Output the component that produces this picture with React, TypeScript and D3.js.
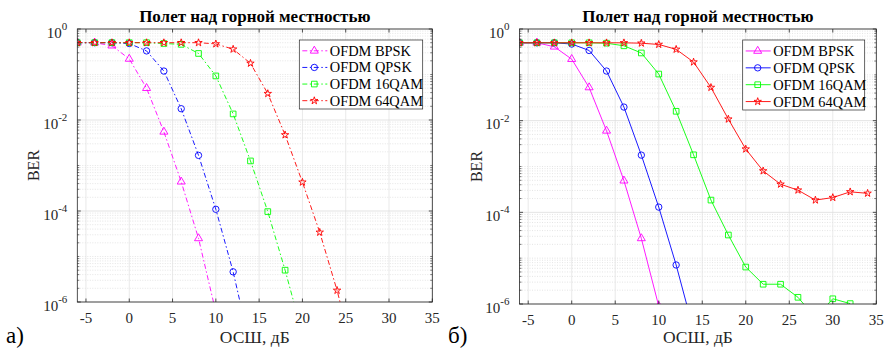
import React from 'react';
import * as d3 from 'd3';

// SNR grid (dB)
const snr = [-6, -4, -2, 0, 2, 4, 6, 8, 10, 12, 14, 16, 18, 20, 22, 24, 26, 28, 30, 32, 34];

// Panel a) values (BER)
const bpskA = [0.5, 0.5, 0.43, 0.22, 0.05, 0.0055, 4.4e-4, 2.5e-5, 6e-7];
const qpskA = [0.5, 0.5, 0.5, 0.48, 0.33, 0.119, 0.0177, 0.00167, 1.09e-4, 4.6e-6, 1e-7];
const qam16A = [0.5, 0.5, 0.5, 0.5, 0.5, 0.48, 0.46, 0.29, 0.093, 0.0136, 0.00126, 9.7e-5, 5e-6, 2e-7];
const qam64A = [0.5, 0.5, 0.5, 0.5, 0.5, 0.5, 0.5, 0.5, 0.47, 0.36, 0.176, 0.038, 0.0047, 4.3e-4, 3.4e-5, 1.8e-6, 6e-8];

// Panel б) values (BER)
const bpskB = [0.5, 0.5, 0.41, 0.22, 0.053, 0.006, 4.9e-4, 2.7e-5, 9e-7];
const qpskB = [0.5, 0.5, 0.5, 0.47, 0.34, 0.121, 0.0198, 0.00177, 1.3e-4, 7.1e-6, 2.7e-7];
const qam16B = [0.5, 0.5, 0.5, 0.5, 0.5, 0.49, 0.43, 0.3, 0.104, 0.016, 0.0018, 1.85e-4, 3.2e-5, 6.4e-6, 2.7e-6, 2.7e-6, 1.4e-6, 5e-7, 1.3e-6, 1.02e-6];
const qam64B = [0.5, 0.5, 0.5, 0.5, 0.5, 0.5, 0.5, 0.49, 0.46, 0.36, 0.19, 0.053, 0.0108, 0.0024, 8e-4, 4.1e-4, 3.05e-4, 1.85e-4, 2.1e-4, 2.8e-4, 2.6e-4];

const seriesNames = ['OFDM BPSK', 'OFDM QPSK', 'OFDM 16QAM', 'OFDM 64QAM'];
const seriesColors = ['#ff00ff', '#0000ff', '#00ff00', '#ff0000'];
const seriesMarkers = ['triangle', 'circle', 'square', 'star'];

const xTicks = [-5, 0, 5, 10, 15, 20, 25, 30, 35];
const yTickExp = [0, -2, -4, -6];
const titleText = 'Полет над горной местностью';
const xLabelText = 'ОСШ, дБ';
const yLabelText = 'BER';

const FONT = '"Liberation Serif", "Times New Roman", serif';
const AXIS = '#262626';

const markerPath = (kind: string) => {
  const m: Record<string, [d3.SymbolType, number]> = {
    triangle: [d3.symbolTriangle, 28],
    circle: [d3.symbolCircle, 32],
    square: [d3.symbolSquare, 32],
    star: [d3.symbolStar, 17],
  };
  const [t, s] = m[kind];
  return d3.symbol().type(t).size(s)() as string;
};

type PanelProps = {
  id: string;
  x0: number; x1: number; y0: number; y1: number;
  data: number[][];
  dash: string | undefined;
  letter: string; letterX: number;
  legend: { x: number; y: number; w: number; h: number };
};

function Panel({ id, x0, x1, y0, y1, data, dash, letter, letterX, legend }: PanelProps) {
  const x = d3.scaleLinear().domain([-6, 35]).range([x0, x1]);
  const y = d3.scaleLog().domain([1e-6, 1]).range([y1, y0]);
  const line = d3.line<[number, number]>().x(d => x(d[0])).y(d => y(d[1]));
  const cx = (x0 + x1) / 2;

  const minor: number[] = [];
  for (let k = -6; k < 0; k++) {
    for (let n = 1; n <= 9; n++) {
      const v = n * Math.pow(10, k);
      if (n === 1 && k % 2 === 0) continue;
      minor.push(v);
    }
  }

  const rowH = legend.h / 4.15;
  return (
    <g>
      <defs>
        <clipPath id={`clip-${id}`}>
          <rect x={x0} y={y0} width={x1 - x0} height={y1 - y0} />
        </clipPath>
      </defs>
      <rect x={x0} y={y0} width={x1 - x0} height={y1 - y0} fill="#fff" />
      {/* minor grid */}
      {minor.map((v, i) => (
        <line key={`mg${i}`} x1={x0} x2={x1} y1={y(v)} y2={y(v)} stroke="#d4d4d4" strokeWidth={0.6} strokeDasharray="1,1.5" />
      ))}
      {/* major grid */}
      {xTicks.map(t => (
        <line key={`gx${t}`} x1={x(t)} x2={x(t)} y1={y0} y2={y1} stroke="#e3e3e3" strokeWidth={0.8} />
      ))}
      {yTickExp.map(e => (
        <line key={`gy${e}`} x1={x0} x2={x1} y1={y(Math.pow(10, e))} y2={y(Math.pow(10, e))} stroke="#dcdcdc" strokeWidth={0.8} />
      ))}
      {/* series */}
      <g clipPath={`url(#clip-${id})`}>
        {data.map((vals, si) => {
          const pts: [number, number][] = vals.map((v, i) => [snr[i], v]);
          return (
            <g key={`s${si}`}>
              <path d={line(pts) as string} fill="none" stroke={seriesColors[si]} strokeWidth={0.9} strokeDasharray={dash} />
              {pts.map((p, i) => (
                <path key={i} d={markerPath(seriesMarkers[si])} transform={`translate(${x(p[0])},${y(p[1])})`} fill="none" stroke={seriesColors[si]} strokeWidth={0.9} />
              ))}
            </g>
          );
        })}
      </g>
      {/* box */}
      <rect x={x0} y={y0} width={x1 - x0} height={y1 - y0} fill="none" stroke={AXIS} strokeWidth={0.8} />
      {/* ticks */}
      {xTicks.map(t => (
        <g key={`tx${t}`}>
          <line x1={x(t)} x2={x(t)} y1={y1} y2={y1 - 3.5} stroke={AXIS} strokeWidth={0.8} />
          <line x1={x(t)} x2={x(t)} y1={y0} y2={y0 + 3.5} stroke={AXIS} strokeWidth={0.8} />
          <text x={x(t)} y={y1 + 20.5} textAnchor="middle" fontFamily={FONT} fontSize={15} fill={AXIS}>{t < 0 ? `-${-t}` : `${t}`}</text>
        </g>
      ))}
      {minor.map((v, i) => (
        <g key={`mt${i}`}>
          <line x1={x0} x2={x0 + 2} y1={y(v)} y2={y(v)} stroke={AXIS} strokeWidth={0.6} />
          <line x1={x1} x2={x1 - 2} y1={y(v)} y2={y(v)} stroke={AXIS} strokeWidth={0.6} />
        </g>
      ))}
      {yTickExp.map(e => (
        <g key={`ty${e}`}>
          <line x1={x0} x2={x0 + 3.5} y1={y(Math.pow(10, e))} y2={y(Math.pow(10, e))} stroke={AXIS} strokeWidth={0.8} />
          <line x1={x1} x2={x1 - 3.5} y1={y(Math.pow(10, e))} y2={y(Math.pow(10, e))} stroke={AXIS} strokeWidth={0.8} />
          <text x={x0 - 10} y={y(Math.pow(10, e)) + 8.5} textAnchor="end" fontFamily={FONT} fontSize={15} fill={AXIS}>
            10<tspan dy={-7.5} fontSize={11}>{e < 0 ? `-${-e}` : `${e}`}</tspan>
          </text>
        </g>
      ))}
      {/* labels */}
      <text x={cx} y={22} textAnchor="middle" fontFamily={FONT} fontSize={17} fontWeight="bold" fill="#000">{titleText}</text>
      <text x={cx} y={342.5} textAnchor="middle" fontFamily={FONT} fontSize={17.5} fill={AXIS}>{xLabelText}</text>
      <text transform={`translate(${x0 - 38},${(y0 + y1) / 2})rotate(-90)`} textAnchor="middle" fontFamily={FONT} fontSize={16} fill={AXIS}>{yLabelText}</text>
      <text x={letterX} y={343} fontFamily={FONT} fontSize={23} fill="#000">{letter}</text>
      {/* legend */}
      <rect x={legend.x} y={legend.y} width={legend.w} height={legend.h} fill="#fff" stroke={AXIS} strokeWidth={0.7} />
      {seriesNames.map((n, i) => {
        const ry = legend.y + rowH * (i + 0.65);
        return (
          <g key={`lg${i}`}>
            <line x1={legend.x + 3} x2={legend.x + 28} y1={ry} y2={ry} stroke={seriesColors[i]} strokeWidth={0.9} strokeDasharray={dash} />
            <path d={markerPath(seriesMarkers[i])} transform={`translate(${legend.x + 15},${ry})`} fill="none" stroke={seriesColors[i]} strokeWidth={0.9} />
            <text x={legend.x + 30.5} y={ry + 5} fontFamily={FONT} fontSize={14.4} fill="#000">{n}</text>
          </g>
        );
      })}
    </g>
  );
}

export default function App() {
  return (
    <svg width={886} height={350} style={{ position: 'absolute', left: 0, top: 0, background: '#fff' }}>
      <rect width={886} height={350} fill="#fff" />
      <Panel id="a" x0={77.3} x1={432.3} y0={29} y1={302} data={[bpskA, qpskA, qam16A, qam64A]} dash="5,2.5,1.5,2.5"
        letter="а)" letterX={6} legend={{ x: 299.3, y: 40, w: 123.4, h: 69 }} />
      <Panel id="b" x0={519.5} x1={876.3} y0={29} y1={304} data={[bpskB, qpskB, qam16B, qam64B]} dash={undefined}
        letter="б)" letterX={448} legend={{ x: 742.7, y: 40, w: 122, h: 70 }} />
    </svg>
  );
}
